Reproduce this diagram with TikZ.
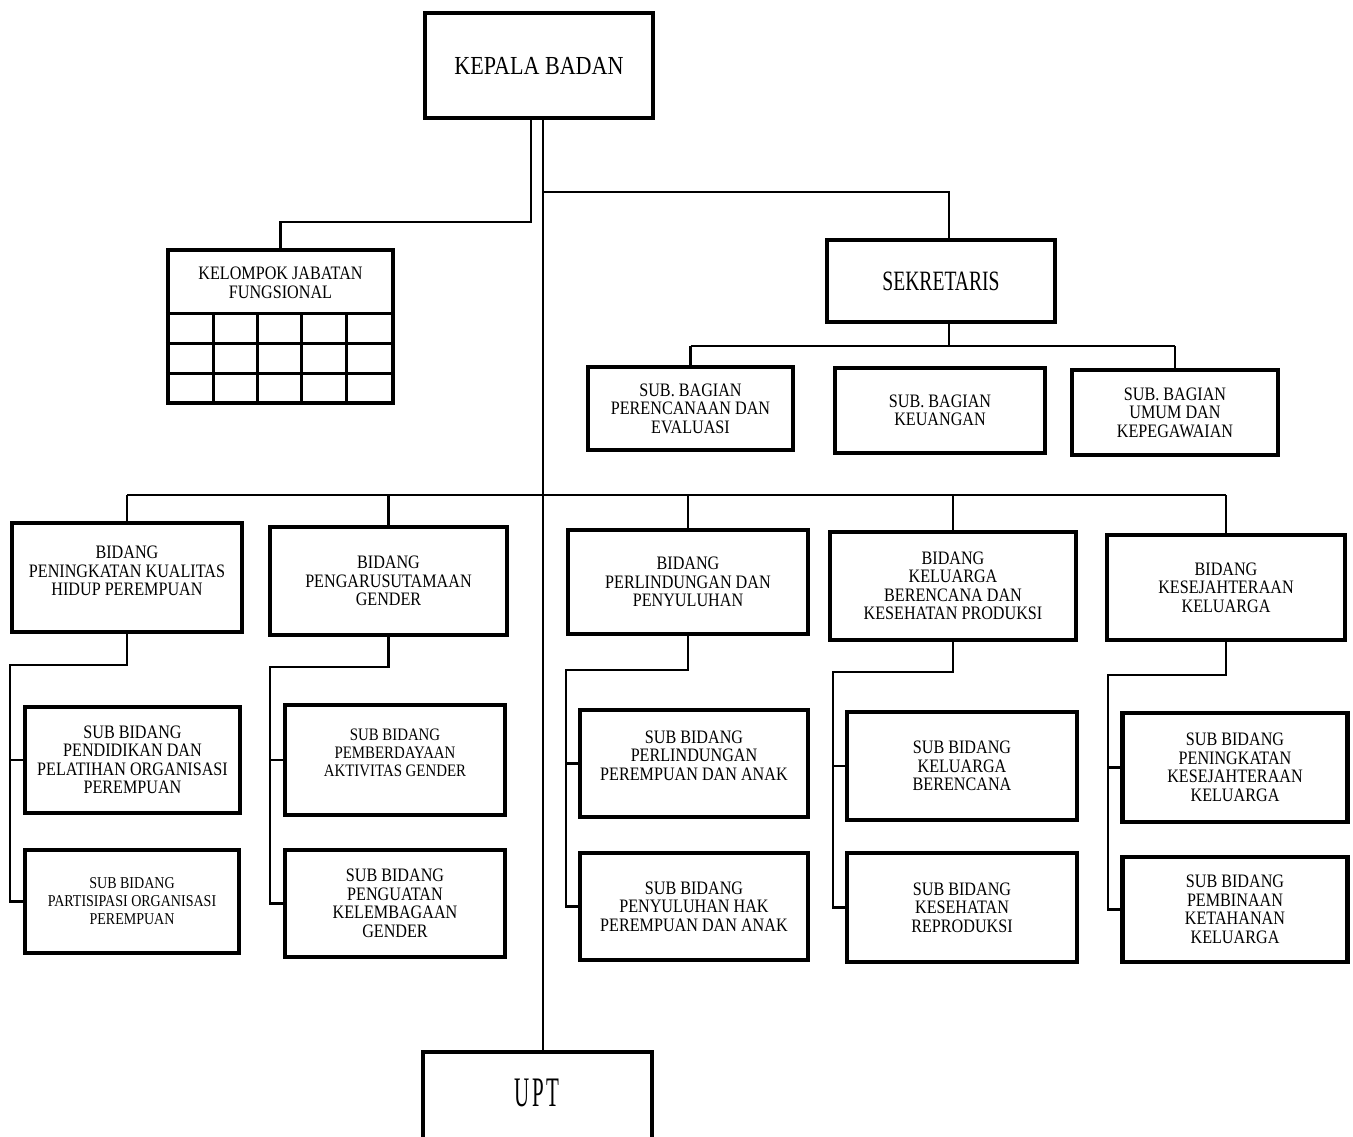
\documentclass[tikz,border=0pt]{standalone}
\usepackage{fontspec}
\setmainfont{Liberation Serif}
\newfontfamily\orgfont[FakeStretch=0.85]{Liberation Serif}
\newfontfamily\orgfontc[FakeStretch=0.7]{Liberation Serif}
\newfontfamily\orgfontu[FakeStretch=0.5]{Liberation Serif}
\tikzset{
  orgbox/.style={draw=black, line width=4.5pt, fill=white, inner sep=0pt, align=center,
    font={\orgfont\fontsize{19}{18.5}\selectfont}},
  smalltxt/.style={font={\orgfont\fontsize{16.5}{18}\selectfont}},
  midtxt/.style={font={\orgfont\fontsize{17.5}{18}\selectfont}},
  conn/.style={draw=black, line width=2.5pt},
  gridline/.style={draw=black, line width=3pt},
  plain/.style={inner sep=0pt, align=center}
}
\begin{document}
\begin{tikzpicture}[x=1pt, y=-1pt]
\useasboundingbox (0,0) rectangle (1353,1136);
\clip (0,0) rectangle (1353,1136);
\fill[white] (0,0) rectangle (1353,1136);

% top
\node[orgbox, minimum width=228, minimum height=105,
  font={\orgfont\fontsize{26}{26}\selectfont}] (kb) at (539,65.5) {KEPALA BADAN};

% KJF
\node[orgbox, minimum width=225, minimum height=153] (kjf) at (280.5,326.5) {};
\node[plain, font={\orgfont\fontsize{19}{18.5}\selectfont}] (kjft) at (280.5,283) {KELOMPOK JABATAN\\FUNGSIONAL};
\draw[gridline] (kjf.west |- 0,313) -- (kjf.east |- 0,313);
\draw[gridline] (kjf.west |- 0,343) -- (kjf.east |- 0,343);
\draw[gridline] (kjf.west |- 0,373) -- (kjf.east |- 0,373);
\foreach \gx in {213,257,301,346} {
  \draw[gridline] (\gx,313) -- (\gx,403);
}

% sekretaris
\node[orgbox, minimum width=228, minimum height=82,
  font={\orgfontc\fontsize{28}{28}\selectfont}] (sek) at (941,281) {SEKRETARIS};

\node[orgbox, minimum width=205, minimum height=83] (sb1) at (690.5,408.5) {SUB. BAGIAN\\PERENCANAAN DAN\\EVALUASI};
\node[orgbox, minimum width=210, minimum height=85] (sb2) at (940,410.5) {SUB. BAGIAN\\KEUANGAN};
\node[orgbox, minimum width=206, minimum height=85] (sb3) at (1175,412.5) {SUB. BAGIAN\\UMUM DAN\\KEPEGAWAIAN};

% bidang
\node[orgbox, minimum width=230, minimum height=109] (b1) at (127,577.5) {BIDANG\\PENINGKATAN KUALITAS\\HIDUP PEREMPUAN\\[-5pt]};
\node[orgbox, minimum width=237, minimum height=108] (b2) at (388.5,581) {BIDANG\\PENGARUSUTAMAAN\\GENDER};
\node[orgbox, minimum width=240, minimum height=104] (b3) at (688,582) {BIDANG\\PERLINDUNGAN DAN\\PENYULUHAN};
\node[orgbox, minimum width=246, minimum height=108] (b4) at (953,586) {BIDANG\\KELUARGA\\BERENCANA DAN\\KESEHATAN PRODUKSI};
\node[orgbox, minimum width=238, minimum height=105] (b5) at (1226,587.5) {BIDANG\\KESEJAHTERAAN\\KELUARGA};

% sub bidang
\node[orgbox, minimum width=215, minimum height=106] (s1a) at (132.5,760) {SUB BIDANG\\PENDIDIKAN DAN\\PELATIHAN ORGANISASI\\PEREMPUAN};
\node[orgbox, smalltxt, minimum width=214, minimum height=103] (s1b) at (132,901.5) {SUB BIDANG\\PARTISIPASI ORGANISASI\\PEREMPUAN};
\node[orgbox, midtxt, minimum width=220, minimum height=110] (s2a) at (395,760) {SUB BIDANG\\PEMBERDAYAAN\\AKTIVITAS GENDER\\[-4pt]};
\node[orgbox, minimum width=220, minimum height=107] (s2b) at (395,903.5) {SUB BIDANG\\PENGUATAN\\KELEMBAGAAN\\GENDER};
\node[orgbox, minimum width=228, minimum height=107] (s3a) at (694,763.5) {SUB BIDANG\\PERLINDUNGAN\\PEREMPUAN DAN ANAK\\[-2pt]};
\node[orgbox, minimum width=228, minimum height=107] (s3b) at (694,906.5) {SUB BIDANG\\PENYULUHAN HAK\\PEREMPUAN DAN ANAK};
\node[orgbox, minimum width=230, minimum height=108] (s4a) at (962,766) {SUB BIDANG\\KELUARGA\\BERENCANA};
\node[orgbox, minimum width=230, minimum height=109] (s4b) at (962,907.5) {SUB BIDANG\\KESEHATAN\\REPRODUKSI};
\node[orgbox, minimum width=225, minimum height=109] (s5a) at (1235,767.5) {SUB BIDANG\\PENINGKATAN\\KESEJAHTERAAN\\KELUARGA};
\node[orgbox, minimum width=225, minimum height=105] (s5b) at (1235,909.5) {SUB BIDANG\\PEMBINAAN\\KETAHANAN\\KELUARGA};

% UPT
\node[orgbox, minimum width=229, minimum height=100] (upt) at (537.5,1102) {};
\node[plain, font={\orgfontu\fontsize{42}{42}\selectfont}] (uptt) at (537,1093) {U\hspace{3pt}P\hspace{3pt}T};

% connectors from top
\coordinate (mx) at (543,0);
\coordinate (kl) at (531,222);
\coordinate (kr) at (543,192);
\coordinate (sekx) at (949,0);
\draw[conn] (kb.south -| mx) -- (upt.north -| mx);
\draw[conn] (kb.south -| kl) -- (kl) -| (kjf.north);
\draw[conn] (kr) -| (sek.north -| sekx);

% sekretaris branch
\coordinate (sy) at (0,346);
\draw[conn] (sek.south -| sekx) -- (sekx |- sy);
\draw[conn] (sb1.north |- sy) -- (sb3.north |- sy);
\draw[conn] (sb1.north |- sy) -- (sb1.north);
\draw[conn] (sb3.north |- sy) -- (sb3.north);

% bidang bus
\coordinate (bus) at (0,495);
\draw[conn] (b1.north |- bus) -- (b5.north |- bus);
\foreach \b in {b1,b2,b3,b4,b5} {
  \draw[conn] (\b.north |- bus) -- (\b.north);
}

% sub bidang connectors
\coordinate (k1) at (10,665);
\coordinate (k2) at (270,667);
\coordinate (k3) at (566,670);
\coordinate (k4) at (833,672);
\coordinate (k5) at (1108,675);
\draw[conn] (b1.south) |- (k1) -- (k1 |- s1b.west) -- (s1b.west);
\draw[conn] (k1 |- s1a.west) -- (s1a.west);
\draw[conn] (b2.south) |- (k2) -- (k2 |- s2b.west) -- (s2b.west);
\draw[conn] (k2 |- s2a.west) -- (s2a.west);
\draw[conn] (b3.south) |- (k3) -- (k3 |- s3b.west) -- (s3b.west);
\draw[conn] (k3 |- s3a.west) -- (s3a.west);
\draw[conn] (b4.south) |- (k4) -- (k4 |- s4b.west) -- (s4b.west);
\draw[conn] (k4 |- s4a.west) -- (s4a.west);
\draw[conn] (b5.south) |- (k5) -- (k5 |- s5b.west) -- (s5b.west);
\draw[conn] (k5 |- s5a.west) -- (s5a.west);
\end{tikzpicture}
\end{document}
